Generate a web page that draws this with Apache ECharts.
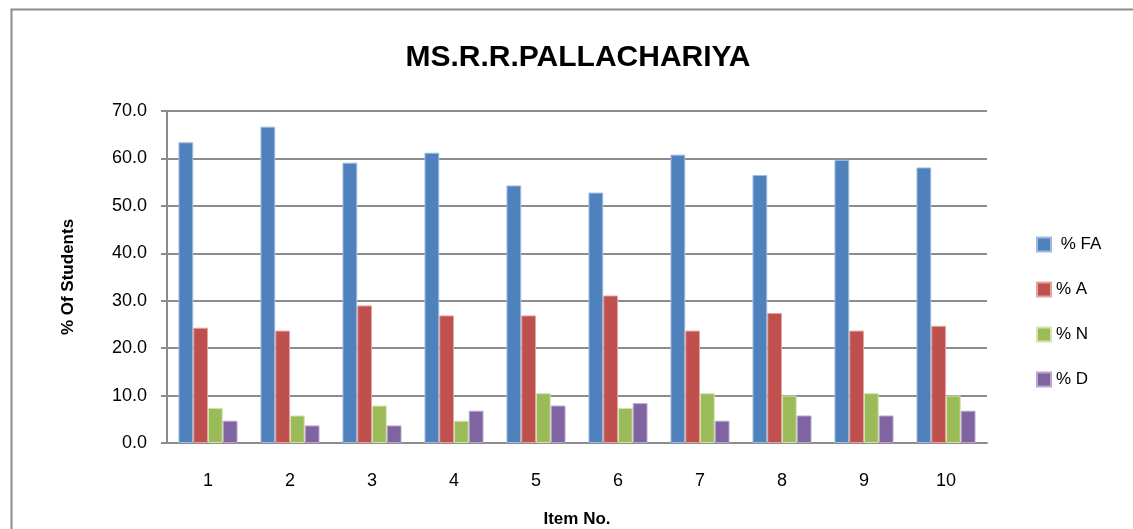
<!DOCTYPE html>
<html><head><meta charset="utf-8">
<script src="https://cdn.jsdelivr.net/npm/echarts@6/dist/echarts.min.js"></script>
<style>html,body{margin:0;padding:0;background:#fff}#c{width:1133px;height:529px}</style>
</head><body><div id="c"></div>
<script>
const categories = ['1','2','3','4','5','6','7','8','9','10'];
const seriesNames = [' % FA', '% A', '% N', '% D'];
const pctFA = [63.4, 66.7, 59.1, 61.2, 54.3, 52.8, 60.8, 56.5, 59.7, 58.1];
const pctA  = [24.3, 23.7, 29.0, 26.9, 26.9, 31.1, 23.7, 27.4, 23.7, 24.7];
const pctN  = [7.4, 5.8, 7.9, 4.7, 10.5, 7.4, 10.5, 10.0, 10.5, 10.0];
const pctD  = [4.7, 3.7, 3.7, 6.8, 7.9, 8.4, 4.7, 5.8, 5.8, 6.8];
const colors = ['#4F81BD', '#C0504D', '#9BBB59', '#8064A2'];
const borders = ['#9FBCE0', '#E3A3A1', '#D3E4B3', '#B8A6CE'];
const font = 'Liberation Sans Narrow, Liberation Sans, sans-serif';
const chart = echarts.init(document.getElementById('c'));
const data = [pctFA, pctA, pctN, pctD];
chart.setOption({
  animation: false,
  graphic: [{type:'rect', shape:{x:11.5,y:9.5,width:1140,height:540}, style:{fill:'none', stroke:'#8c8c8c', lineWidth:2}}],
  title: {text: 'MS.R.R.PALLACHARIYA', left: 573, textAlign: 'center', top: 38,
    textStyle: {fontFamily: font, fontSize: 30, fontWeight: 'bold', color: '#000'}},
  legend: {orient: 'vertical', left: 1031, top: 231, itemGap: 28, itemWidth: 14, itemHeight: 14,
    icon: 'rect', textStyle: {fontFamily: font, fontSize: 17, color: '#000'},
    data: seriesNames},
  grid: {left: 167, right: 146, top: 111, bottom: 86, containLabel: false, outerBoundsMode: 'none'},
  xAxis: {type: 'category', data: categories,
    name: 'Item No.', nameLocation: 'middle', nameGap: 68,
    nameTextStyle: {fontFamily: font, fontSize: 17, fontWeight: 'bold', color: '#000'},
    axisLine: {lineStyle: {color: '#8c8c8c', width: 2}},
    axisTick: {show: false},
    axisLabel: {fontFamily: font, fontSize: 18, color: '#000', margin: 29}},
  yAxis: {type: 'value', min: 0, max: 70, interval: 10,
    name: '% Of Students', nameLocation: 'middle', nameGap: 90, nameRotate: 90,
    nameTextStyle: {fontFamily: font, fontSize: 17, fontWeight: 'bold', color: '#000'},
    axisLine: {show: true, lineStyle: {color: '#8c8c8c', width: 2}},
    axisTick: {show: true, length: 6, lineStyle: {color: '#8c8c8c', width: 2}},
    splitLine: {lineStyle: {color: '#8c8c8c', width: 2}},
    axisLabel: {fontFamily: font, fontSize: 18, color: '#000', margin: 20,
      formatter: v => v.toFixed(1)}},
  series: data.map((d, i) => ({
    name: seriesNames[i], type: 'bar', data: d, barGap: '0%', barCategoryGap: '28%',
    itemStyle: {color: colors[i], borderColor: borders[i], borderWidth: 1}
  }))
});
</script></body></html>
